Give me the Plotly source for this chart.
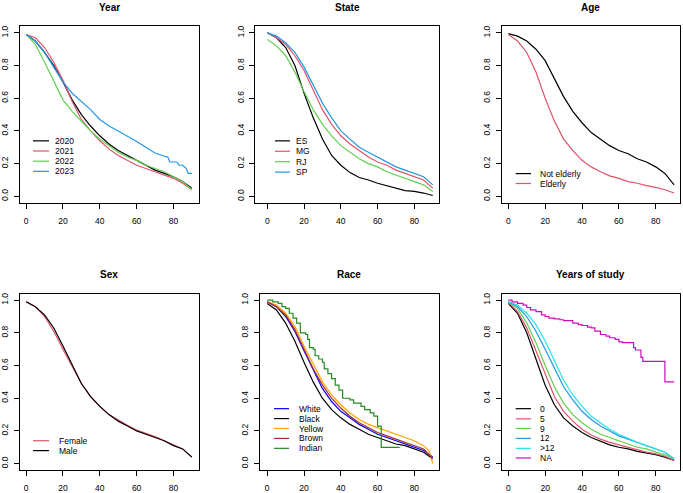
import plotly.graph_objects as go

W, H = 683, 493

# ---------------- data ----------------
time_grid = [0, 5, 10, 15, 20, 25, 30, 35, 40, 45, 50, 55, 60, 65, 70, 75, 80, 85, 90]

# Year
year_labels = ["2020", "2021", "2022", "2023"]
year_2020 = [0.99, 0.95, 0.88, 0.80, 0.70, 0.59, 0.50, 0.43, 0.37, 0.32, 0.28, 0.25, 0.22, 0.19, 0.16, 0.14, 0.12, 0.09, 0.05]
year_2021 = [0.99, 0.97, 0.91, 0.82, 0.71, 0.58, 0.47, 0.40, 0.34, 0.29, 0.25, 0.22, 0.19, 0.17, 0.15, 0.13, 0.11, 0.08, 0.04]
year_2022 = [0.99, 0.93, 0.82, 0.70, 0.59, 0.52, 0.46, 0.40, 0.35, 0.31, 0.27, 0.24, 0.22, 0.19, 0.17, 0.15, 0.12, 0.09, 0.04]
year_2023_t = [0, 5, 10, 15, 20, 25, 30, 35, 40, 45, 50, 55, 60, 65, 70, 75, 77, 78, 80, 82, 83, 85, 87, 88, 90]
year_2023 = [0.99, 0.95, 0.88, 0.79, 0.70, 0.63, 0.58, 0.53, 0.47, 0.43, 0.40, 0.37, 0.335, 0.30, 0.265, 0.245, 0.24, 0.21, 0.21, 0.21, 0.19, 0.19, 0.17, 0.14, 0.14]

# State
state_labels = ["ES", "MG", "RJ", "SP"]
state_es = [1.00, 0.97, 0.91, 0.80, 0.63, 0.48, 0.35, 0.25, 0.19, 0.145, 0.115, 0.10, 0.08, 0.065, 0.05, 0.035, 0.03, 0.02, 0.005]
state_mg = [1.00, 0.97, 0.93, 0.86, 0.77, 0.65, 0.53, 0.44, 0.37, 0.32, 0.28, 0.24, 0.21, 0.19, 0.16, 0.14, 0.12, 0.10, 0.05]
state_rj = [0.96, 0.92, 0.86, 0.76, 0.64, 0.53, 0.44, 0.37, 0.31, 0.27, 0.23, 0.20, 0.18, 0.15, 0.13, 0.11, 0.09, 0.07, 0.03]
state_sp = [1.00, 0.98, 0.94, 0.88, 0.79, 0.68, 0.57, 0.48, 0.40, 0.35, 0.30, 0.27, 0.24, 0.21, 0.18, 0.16, 0.14, 0.12, 0.07]

# Age
age_labels = ["Not elderly", "Elderly"]
age_not_elderly = [0.995, 0.98, 0.95, 0.90, 0.83, 0.72, 0.61, 0.52, 0.45, 0.39, 0.35, 0.31, 0.28, 0.26, 0.23, 0.21, 0.18, 0.14, 0.07]
age_elderly = [0.99, 0.95, 0.88, 0.76, 0.60, 0.46, 0.35, 0.28, 0.22, 0.18, 0.15, 0.125, 0.11, 0.09, 0.08, 0.065, 0.055, 0.04, 0.02]

# Sex
sex_labels = ["Female", "Male"]
sex_female = [0.99, 0.96, 0.90, 0.81, 0.70, 0.59, 0.49, 0.41, 0.35, 0.30, 0.265, 0.235, 0.205, 0.185, 0.165, 0.14, 0.115, 0.09, 0.04]
sex_male = [0.99, 0.96, 0.91, 0.83, 0.72, 0.60, 0.49, 0.41, 0.35, 0.30, 0.26, 0.23, 0.20, 0.18, 0.16, 0.14, 0.11, 0.09, 0.04]

# Race
race_labels = ["White", "Black", "Yellow", "Brown", "Indian"]
race_white = [0.99, 0.96, 0.90, 0.81, 0.69, 0.57, 0.46, 0.38, 0.32, 0.28, 0.24, 0.21, 0.18, 0.16, 0.14, 0.12, 0.10, 0.08, 0.04]
race_black = [0.98, 0.94, 0.86, 0.75, 0.62, 0.50, 0.40, 0.33, 0.28, 0.24, 0.21, 0.18, 0.16, 0.14, 0.12, 0.11, 0.09, 0.07, 0.03]
race_yellow_t = [0, 5, 10, 15, 20, 25, 30, 35, 40, 45, 50, 55, 60, 65, 70, 75, 80, 85, 88, 90]
race_yellow = [0.99, 0.97, 0.92, 0.84, 0.72, 0.61, 0.50, 0.42, 0.36, 0.31, 0.27, 0.24, 0.22, 0.20, 0.18, 0.16, 0.14, 0.11, 0.08, 0.00]
race_brown = [0.99, 0.96, 0.91, 0.82, 0.70, 0.58, 0.48, 0.40, 0.34, 0.29, 0.25, 0.22, 0.19, 0.17, 0.15, 0.13, 0.11, 0.09, 0.03]
race_indian_t = [0, 3, 6, 8, 10, 12, 14, 16, 18, 21, 22, 23, 25, 26, 28, 30, 31, 33, 35, 37, 39, 41, 45, 47, 51, 53, 56, 58, 60, 62, 72]
race_indian = [1.00, 0.99, 0.98, 0.96, 0.95, 0.92, 0.89, 0.86, 0.80, 0.79, 0.76, 0.71, 0.70, 0.66, 0.64, 0.62, 0.58, 0.55, 0.52, 0.48, 0.45, 0.40, 0.39, 0.37, 0.35, 0.33, 0.31, 0.29, 0.23, 0.10, 0.10]

# Years of study
study_labels = ["0", "5", "9", "12", ">12", "NA"]
study_0 = [0.98, 0.92, 0.80, 0.64, 0.48, 0.36, 0.28, 0.23, 0.19, 0.16, 0.135, 0.115, 0.10, 0.09, 0.075, 0.065, 0.055, 0.04, 0.02]
study_5 = [0.985, 0.93, 0.83, 0.69, 0.54, 0.41, 0.32, 0.26, 0.21, 0.175, 0.15, 0.13, 0.115, 0.10, 0.085, 0.07, 0.06, 0.045, 0.02]
study_9 = [0.985, 0.95, 0.86, 0.74, 0.60, 0.47, 0.37, 0.30, 0.25, 0.21, 0.18, 0.16, 0.14, 0.12, 0.10, 0.09, 0.07, 0.055, 0.03]
study_12 = [0.99, 0.96, 0.90, 0.81, 0.70, 0.58, 0.47, 0.39, 0.32, 0.27, 0.23, 0.20, 0.17, 0.15, 0.13, 0.11, 0.09, 0.07, 0.03]
study_gt12 = [0.99, 0.97, 0.92, 0.85, 0.75, 0.63, 0.51, 0.42, 0.35, 0.29, 0.25, 0.21, 0.18, 0.155, 0.13, 0.11, 0.09, 0.07, 0.03]
study_na_t = [0, 2, 5, 8, 10, 12, 15, 18, 20, 22, 25, 28, 30, 35, 38, 40, 43, 45, 47, 50, 53, 55, 58, 60, 62, 68, 69, 72, 73, 85, 90]
study_na = [1.00, 0.99, 0.98, 0.97, 0.955, 0.94, 0.93, 0.91, 0.90, 0.89, 0.885, 0.88, 0.875, 0.86, 0.85, 0.845, 0.835, 0.83, 0.81, 0.79, 0.78, 0.77, 0.76, 0.745, 0.74, 0.71, 0.695, 0.65, 0.625, 0.50, 0.50]

x_ticks = [0, 20, 40, 60, 80]
y_ticks = [0.0, 0.2, 0.4, 0.6, 0.8, 1.0]
y_tick_text = ["0.0", "0.2", "0.4", "0.6", "0.8", "1.0"]

# ---------------- styling ----------------
R_BLACK, R_RED, R_GREEN, R_BLUE, R_CYAN, R_MAG = "#000000", "#DF536B", "#61D04F", "#2297E6", "#28E2E5", "#CD0BBC"
FONT = "Liberation Sans, Arial, Helvetica, sans-serif"

panels = [
    dict(title="Year", box=(19.5, 198.5, 25.5, 203.5), xr=(-3.6, 93.6),
         series=[(time_grid, year_2020, R_BLACK, "linear"), (time_grid, year_2021, R_RED, "linear"),
                 (time_grid, year_2022, R_GREEN, "linear"), (year_2023_t, year_2023, R_BLUE, "linear")],
         labels=year_labels, colors=[R_BLACK, R_RED, R_GREEN, R_BLUE],
         leg_rows=[141, 151.2, 161.5, 171.7], leg_line=(33, 49), leg_text=53),
    dict(title="State", box=(255, 439, 25.5, 203.5), xr=(-6.7, 93.4),
         series=[(time_grid, state_es, R_BLACK, "linear"), (time_grid, state_mg, R_RED, "linear"),
                 (time_grid, state_rj, R_GREEN, "linear"), (time_grid, state_sp, R_BLUE, "linear")],
         labels=state_labels, colors=[R_BLACK, R_RED, R_GREEN, R_BLUE],
         leg_rows=[141, 151.5, 162, 172.5], leg_line=(275, 290), leg_text=294),
    dict(title="Age", box=(501.7, 680, 25.5, 203.5), xr=(-3.6, 93.2),
         series=[(time_grid, age_not_elderly, R_BLACK, "linear"), (time_grid, age_elderly, R_RED, "linear")],
         labels=age_labels, colors=[R_BLACK, R_RED],
         leg_rows=[174, 184], leg_line=(515.7, 531), leg_text=538),
    dict(title="Sex", box=(19.5, 198.5, 295, 473), xr=(-3.6, 93.6),
         series=[(time_grid, sex_female, R_RED, "linear"), (time_grid, sex_male, R_BLACK, "linear")],
         labels=sex_labels, colors=[R_RED, R_BLACK],
         leg_rows=[443.3, 453.3], leg_line=(33, 49), leg_text=57),
    dict(title="Race", box=(259.5, 439, 295, 473), xr=(-4.2, 93.4),
         series=[(time_grid, race_white, "#0000FF", "linear"), (time_grid, race_black, R_BLACK, "linear"),
                 (race_yellow_t, race_yellow, "#FFA500", "linear"), (time_grid, race_brown, "#A52A2A", "linear"),
                 (race_indian_t, race_indian, "#228B22", "hv")],
         labels=race_labels, colors=["#0000FF", R_BLACK, "#FFA500", "#A52A2A", "#228B22"],
         leg_rows=[411, 421, 431, 441, 451], leg_line=(274, 289), leg_text=297),
    dict(title="Years of study", box=(501.7, 680, 295, 473), xr=(-3.6, 93.2),
         series=[(time_grid, study_0, R_BLACK, "linear"), (time_grid, study_5, R_RED, "linear"),
                 (time_grid, study_9, R_GREEN, "linear"), (time_grid, study_12, R_BLUE, "linear"),
                 (time_grid, study_gt12, R_CYAN, "linear"), (study_na_t, study_na, R_MAG, "hv")],
         labels=study_labels, colors=[R_BLACK, R_RED, R_GREEN, R_BLUE, R_CYAN, R_MAG],
         leg_rows=[411, 421.3, 431, 441, 451, 460.7], leg_line=(515.7, 531), leg_text=537.7),
]


def px(x):
    return x / W


def py(y):
    return 1 - y / H


fig = go.Figure()
shapes, annotations = [], []
layout_axes = {}

for i, p in enumerate(panels, start=1):
    xa = "x" if i == 1 else f"x{i}"
    ya = "y" if i == 1 else f"y{i}"
    x0, x1, y0, y1 = p["box"]
    for (t, s, c, shp) in p["series"]:
        fig.add_trace(go.Scatter(x=t, y=s, mode="lines", xaxis=xa, yaxis=ya,
                                 line=dict(color=c, width=1.2, shape=shp),
                                 showlegend=False, hoverinfo="skip"))
    common = dict(showline=True, mirror=True, linecolor="black", linewidth=1,
                  showgrid=False, zeroline=False, ticks="outside", ticklen=5,
                  tickwidth=1, tickcolor="black",
                  tickfont=dict(family=FONT, size=8.5, color="black"))
    layout_axes["xaxis" if i == 1 else f"xaxis{i}"] = dict(
        domain=[px(x0), px(x1)], range=list(p["xr"]), anchor=ya,
        tickvals=x_ticks, ticklabelstandoff=5, **common)
    layout_axes["yaxis" if i == 1 else f"yaxis{i}"] = dict(
        domain=[py(y1), py(y0)], range=[-0.04, 1.04], anchor=xa,
        tickvals=y_ticks, ticktext=y_tick_text, tickangle=-90, ticklabelstandoff=2, **common)
    # title
    annotations.append(dict(text=f"<b>{p['title']}</b>", x=px((x0 + x1) / 2), y=py(y0 - 19),
                            xref="paper", yref="paper", xanchor="center", yanchor="middle",
                            showarrow=False, font=dict(family=FONT, size=10, color="black")))
    # legend
    lx0, lx1 = p["leg_line"]
    for lab, col, ry in zip(p["labels"], p["colors"], p["leg_rows"]):
        shapes.append(dict(type="line", xref="paper", yref="paper",
                           x0=px(lx0), x1=px(lx1), y0=py(ry), y1=py(ry),
                           line=dict(color=col, width=1.2)))
        annotations.append(dict(text=lab, x=px(p["leg_text"]), y=py(ry), xref="paper", yref="paper",
                                xanchor="left", yanchor="middle", showarrow=False,
                                font=dict(family=FONT, size=8.5, color="black")))

fig.update_layout(width=W, height=H, margin=dict(l=0, r=0, t=0, b=0),
                  paper_bgcolor="white", plot_bgcolor="white",
                  shapes=shapes, annotations=annotations, **layout_axes)

fig.write_html("out.html", config={"displayModeBar": False},
               post_script="document.body.style.margin='0';document.body.style.overflow='hidden';")
